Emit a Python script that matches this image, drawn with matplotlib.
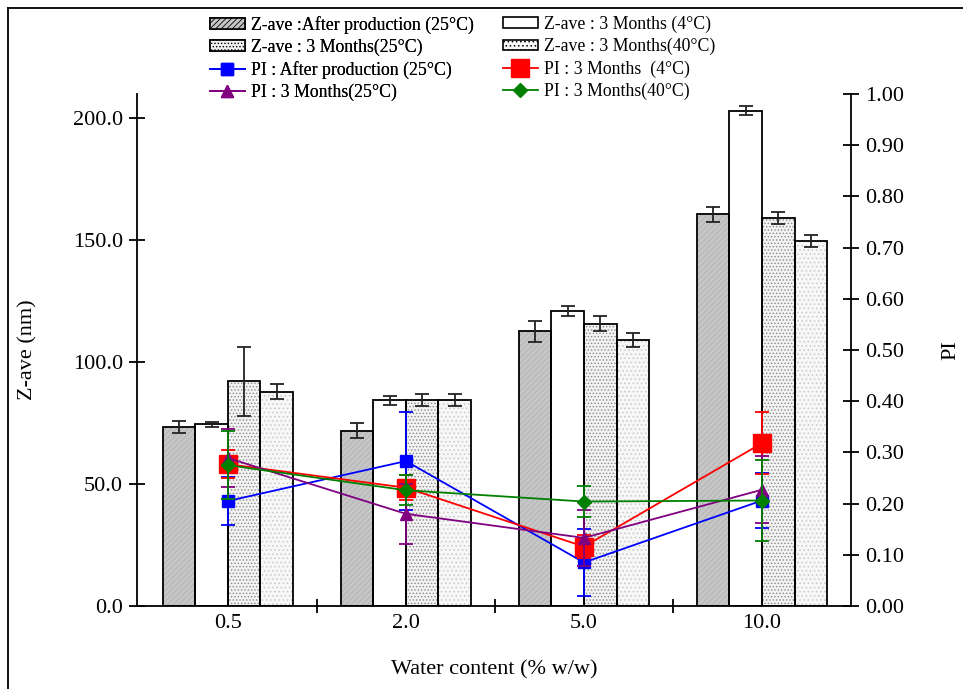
import matplotlib
matplotlib.use("Agg")
import matplotlib.pyplot as plt
import numpy as np
from matplotlib.lines import Line2D
from matplotlib.patches import Patch

plt.rcParams['font.family'] = ['Liberation Serif', 'DejaVu Serif']
plt.rcParams['hatch.linewidth'] = 0.6

# Water content groups
water = ["0.5", "2.0", "5.0", "10.0"]

# Z-average size (nm) and standard deviations
z_after = [73.5, 71.8, 112.5, 160.5]
z_after_sd = [2.5, 3.0, 4.3, 3.0]
z_4c = [74.5, 84.3, 121.0, 203.0]
z_4c_sd = [1.0, 1.8, 2.0, 2.0]
z_25c = [92.0, 84.3, 115.7, 159.0]
z_25c_sd = [14.0, 2.5, 3.0, 2.5]
z_40c = [87.8, 84.3, 109.0, 149.5]
z_40c_sd = [3.0, 2.5, 2.7, 2.5]

# Polydispersity index and standard deviations
pi_after = [0.205, 0.283, 0.085, 0.206]
pi_after_sd = [0.047, 0.095, 0.066, 0.053]
pi_4c = [0.277, 0.231, 0.116, 0.318]
pi_4c_sd = [0.027, 0.024, 0.023, 0.060]
pi_25c = [0.289, 0.180, 0.133, 0.227]
pi_25c_sd = [0.056, 0.058, 0.054, 0.065]
pi_40c = [0.275, 0.226, 0.204, 0.206]
pi_40c_sd = [0.067, 0.029, 0.030, 0.080]

FS = 16
LFS = 12.8

fig = plt.figure(figsize=(9.63, 6.89), dpi=100)
ax = fig.add_axes([0.1423, 0.1205, 0.7414, 0.7431])
ax2 = ax.twinx()

x = np.arange(len(water))
w = 0.183
bar_specs = [
    (z_after, z_after_sd, '#c6c6c6', '//////', '#b2b2b2',
     "Z-ave :After production (25°C)"),
    (z_4c, z_4c_sd, 'white', None, 'white', "Z-ave : 3 Months (4°C)"),
    (z_25c, z_25c_sd, '#f2f2f2', '.....', '#8a8a8a',
     "Z-ave : 3 Months(25°C)"),
    (z_40c, z_40c_sd, '#f7f7f7', '....', '#c8c8c8',
     "Z-ave : 3 Months(40°C)"),
]
handles_bar = []
for i, (vals, sd, fc, hatch, hc, lab) in enumerate(bar_specs):
    pos = x + (i - 1.5) * w
    ax.bar(pos, vals, width=w, color=fc, hatch=hatch, edgecolor=hc,
           linewidth=0, zorder=2)
    ax.bar(pos, vals, width=w, fill=False, edgecolor='black',
           linewidth=1.3, zorder=3)
    ax.errorbar(pos, vals, yerr=sd, fmt='none', ecolor='#222222',
                elinewidth=1.3, capsize=5, capthick=1.3, zorder=4)
    handles_bar.append(Patch(facecolor=fc, edgecolor='black', hatch=hatch,
                             linewidth=1.2, label=lab))

pi_specs = [
    (pi_after, pi_after_sd, '#0000ff', 's', 9, "PI : After production (25°C)"),
    (pi_4c, pi_4c_sd, '#ff0000', 's', 13, "PI : 3 Months  (4°C)"),
    (pi_25c, pi_25c_sd, '#800080', '^', 9, "PI : 3 Months(25°C)"),
    (pi_40c, pi_40c_sd, '#008000', 'D', 7, "PI : 3 Months(40°C)"),
]
handles_pi = []
for k, (vals, sd, col, mk, ms, lab) in enumerate(pi_specs):
    ax2.errorbar(x, vals, yerr=sd, color=col, marker=mk, markersize=ms,
                 linewidth=1.3, elinewidth=1.3, capsize=5, capthick=1.3,
                 zorder=5 + k)
    handles_pi.append(Line2D([], [], color=col, marker=mk, markersize=ms,
                             linewidth=1.3, label=lab))

ax.set_xlim(-0.51, 3.5)
ax.set_ylim(0, 209.8)
ax2.set_ylim(0, 1.0)

ax.set_xticks(x)
ax.set_xticklabels(water)
ax.set_xticks([0.5, 1.5, 2.5], minor=True)
ax.tick_params(axis='x', which='major', length=0, labelsize=FS, pad=6)
ax.tick_params(axis='x', which='minor', direction='inout', length=10,
               width=1.3)
ax.set_yticks([0, 50, 100, 150, 200])
ax.set_yticklabels([f"{v:.1f}" for v in [0, 50, 100, 150, 200]])
ax.tick_params(axis='y', direction='inout', length=12, width=1.3,
               labelsize=FS, pad=4)
ax2.set_yticks(np.round(np.arange(0, 1.01, 0.1), 2))
ax2.set_yticklabels([f"{v:.2f}" for v in np.arange(0, 1.01, 0.1)])
ax2.tick_params(axis='y', direction='inout', length=12, width=1.3,
                labelsize=FS, pad=4)

for a in (ax, ax2):
    a.spines['top'].set_visible(False)
    for s in ('left', 'right', 'bottom'):
        a.spines[s].set_linewidth(1.3)
ax.spines['right'].set_visible(False)
ax2.spines['left'].set_visible(False)
ax2.spines['bottom'].set_visible(False)

ax.set_xlabel("Water content (% w/w)", fontsize=FS)
ax.xaxis.set_label_coords(0.5, -0.106)
ax.set_ylabel("Z-ave (nm)", fontsize=FS)
ax.yaxis.set_label_coords(-0.139, 0.5)
ax2.set_ylabel("PI", fontsize=FS)
ax2.yaxis.set_label_coords(1.126, 0.5)

# Legend: two columns, each placed on its own
legend_kw = dict(loc='upper left', frameon=False, fontsize=LFS,
                 handlelength=1.97, handleheight=0.56, handletextpad=0.34,
                 labelspacing=0.275, borderpad=0, borderaxespad=0)
col1 = [handles_bar[0], handles_bar[2], handles_pi[0], handles_pi[2]]
col2 = [handles_bar[1], handles_bar[3], handles_pi[1], handles_pi[3]]
leg1 = fig.legend(handles=col1, bbox_to_anchor=(0.218, 0.977), **legend_kw)
fig.add_artist(leg1)
fig.legend(handles=col2, bbox_to_anchor=(0.522, 0.977), **legend_kw)

# Outer frame
fig.add_artist(Line2D([0.008, 1.0], [0.988, 0.988], color='black',
                      linewidth=1.3, transform=fig.transFigure))
fig.add_artist(Line2D([0.008, 0.008], [0.0, 0.988], color='black',
                      linewidth=1.3, transform=fig.transFigure))

fig.savefig("out.png", dpi=100)
